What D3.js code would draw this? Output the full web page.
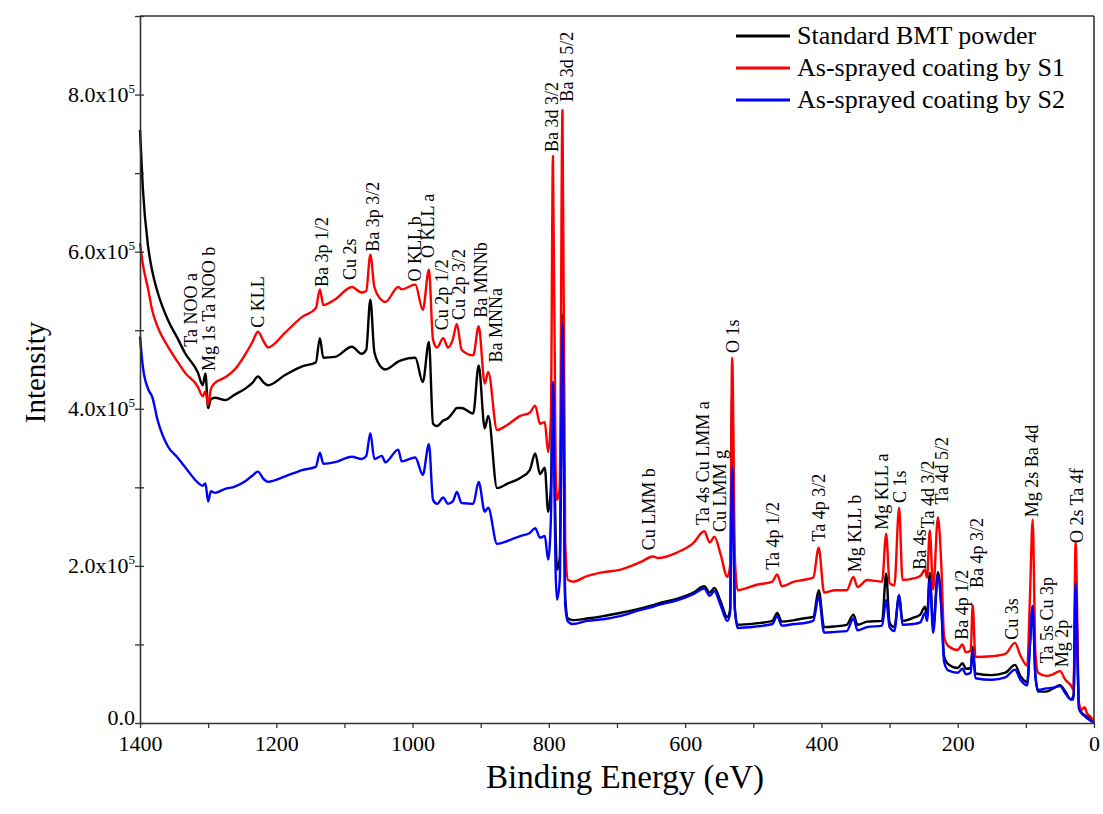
<!DOCTYPE html>
<html>
<head>
<meta charset="utf-8">
<script src="https://cdn.jsdelivr.net/npm/d3@7"></script>
<style>
  body { margin: 0; background: #fff; }
  svg { font-family: "Liberation Serif", "Times New Roman", serif; }
</style>
</head>
<body>
<div id="chart"></div>
<script>
// binding energy grid (eV), intensities in units of 1e5 counts
const energies = [1400, 1396, 1388, 1382, 1374, 1359, 1345, 1334, 1315, 1308,
  1304, 1300, 1296, 1290, 1275, 1261, 1245, 1235, 1227, 1218,
  1212, 1187, 1162, 1142, 1136, 1131, 1114, 1089, 1075, 1068,
  1062, 1056, 1045, 1040, 1021, 1016, 996, 985, 976, 970,
  964, 955, 948, 941, 935, 928, 911, 903, 894, 889,
  876, 860, 842, 828, 820, 813, 806, 801, 797, 794,
  790, 788, 784, 780, 776, 772, 765, 744, 720, 696,
  665, 647, 640, 612, 588, 572, 564, 557, 548, 538,
  534, 531, 527, 523, 495, 472, 465, 458, 440, 427,
  412, 404, 396, 380, 363, 353, 347, 333, 311, 305,
  300, 293, 286, 281, 265, 255, 248, 245, 241, 236,
  229, 224, 220, 214, 200, 193, 188, 181, 178, 174,
  150, 130, 116, 108, 98, 94, 90, 86, 82, 70,
  60, 50, 42, 34, 30, 27, 22, 18, 14, 10,
  5, 0];

const standardBMT = [7.55, 6.83, 6.06, 5.75, 5.48, 5.13, 4.90, 4.71, 4.46, 4.30,
  4.45, 4.01, 4.12, 4.14, 4.11, 4.18, 4.26, 4.33, 4.41, 4.33,
  4.30, 4.43, 4.54, 4.59, 4.90, 4.65, 4.66, 4.79, 4.70, 4.75,
  5.39, 4.72, 4.52, 4.50, 4.60, 4.62, 4.65, 4.34, 4.85, 3.81,
  3.78, 3.85, 3.88, 3.95, 4.01, 4.01, 3.94, 4.55, 3.75, 3.91,
  2.99, 3.05, 3.12, 3.22, 3.43, 3.17, 3.25, 2.69, 3.00, 4.30,
  2.40, 1.95, 2.10, 5.20, 1.60, 1.33, 1.31, 1.33, 1.36, 1.40,
  1.46, 1.50, 1.52, 1.58, 1.66, 1.74, 1.66, 1.72, 1.55, 1.35,
  1.45, 4.20, 1.45, 1.25, 1.27, 1.30, 1.40, 1.29, 1.31, 1.33,
  1.35, 1.69, 1.22, 1.23, 1.25, 1.38, 1.25, 1.29, 1.30, 1.90,
  1.28, 1.22, 1.62, 1.30, 1.34, 1.38, 1.48, 1.35, 1.91, 1.22,
  1.92, 1.50, 0.85, 0.75, 0.70, 0.76, 0.69, 0.70, 0.97, 0.63,
  0.61, 0.64, 0.74, 0.60, 0.52, 1.00, 1.48, 0.60, 0.40, 0.40,
  0.44, 0.48, 0.40, 0.30, 0.35, 1.70, 0.20, 0.13, 0.10, 0.08,
  0.05, 0.00];

const coatingS1 = [6.11, 5.85, 5.52, 5.25, 5.04, 4.79, 4.60, 4.46, 4.28, 4.16,
  4.22, 4.05, 4.25, 4.33, 4.40, 4.50, 4.70, 4.85, 4.98, 4.85,
  4.78, 4.97, 5.17, 5.28, 5.52, 5.32, 5.39, 5.55, 5.48, 5.50,
  5.96, 5.55, 5.38, 5.36, 5.55, 5.52, 5.58, 5.26, 5.77, 4.88,
  4.78, 4.90, 4.78, 4.88, 5.08, 4.75, 4.68, 5.05, 4.32, 4.47,
  3.73, 3.80, 3.91, 3.95, 4.04, 3.81, 3.83, 3.45, 3.90, 7.22,
  3.20, 2.84, 3.00, 7.80, 2.30, 1.82, 1.80, 1.87, 1.92, 1.95,
  2.05, 2.12, 2.10, 2.17, 2.29, 2.44, 2.30, 2.37, 2.15, 1.86,
  2.00, 4.65, 2.10, 1.69, 1.76, 1.80, 1.89, 1.74, 1.80, 1.82,
  1.85, 2.23, 1.66, 1.69, 1.69, 1.86, 1.73, 1.82, 1.80, 2.41,
  1.78, 1.75, 2.74, 1.82, 1.84, 1.87, 1.95, 1.85, 2.45, 1.70,
  2.62, 2.00, 1.10, 0.98, 0.93, 1.00, 0.90, 0.92, 1.50, 0.84,
  0.85, 0.88, 1.02, 0.86, 0.73, 1.60, 2.59, 0.90, 0.64, 0.60,
  0.62, 0.66, 0.55, 0.48, 0.42, 2.30, 0.25, 0.17, 0.20, 0.12,
  0.08, 0.02];

const coatingS2 = [4.92, 4.55, 4.25, 4.15, 3.85, 3.52, 3.38, 3.26, 3.06, 3.02,
  3.05, 2.82, 2.95, 2.93, 2.98, 3.01, 3.08, 3.15, 3.20, 3.10,
  3.07, 3.14, 3.22, 3.26, 3.44, 3.30, 3.32, 3.39, 3.36, 3.40,
  3.69, 3.36, 3.40, 3.32, 3.48, 3.33, 3.38, 3.16, 3.55, 2.84,
  2.79, 2.87, 2.79, 2.82, 2.94, 2.80, 2.79, 3.07, 2.69, 2.74,
  2.28, 2.32, 2.38, 2.42, 2.48, 2.36, 2.38, 2.08, 2.60, 4.34,
  1.90, 1.57, 1.82, 5.08, 1.50, 1.29, 1.26, 1.30, 1.32, 1.36,
  1.44, 1.48, 1.50, 1.56, 1.64, 1.71, 1.62, 1.68, 1.50, 1.30,
  1.40, 3.25, 1.45, 1.21, 1.23, 1.26, 1.36, 1.24, 1.26, 1.27,
  1.30, 1.61, 1.15, 1.16, 1.17, 1.33, 1.18, 1.22, 1.24, 1.57,
  1.22, 1.17, 1.63, 1.25, 1.26, 1.28, 1.40, 1.30, 1.83, 1.15,
  1.88, 1.45, 0.78, 0.67, 0.64, 0.69, 0.62, 0.64, 0.93, 0.57,
  0.55, 0.58, 0.68, 0.55, 0.48, 1.00, 1.49, 0.60, 0.42, 0.44,
  0.45, 0.47, 0.38, 0.30, 0.30, 1.78, 0.18, 0.12, 0.09, 0.06,
  0.03, 0.00];

const seriesNames = ["Standard BMT powder", "As-sprayed coating by S1", "As-sprayed coating by S2"];
const seriesColors = ["#000000", "#ff0000", "#0000ff"];

const xTickValues = [1400, 1200, 1000, 800, 600, 400, 200, 0];
const yTickValues = [0, 2, 4, 6, 8];

// peak assignments: label, energy of label, height (1e5) where the label starts
const peakLabels = ["Ta NOO a", "Mg 1s Ta NOO b", "C KLL", "Ba 3p 1/2", "Cu 2s", "Ba 3p 3/2",
  "O KLL b", "O KLL a", "Cu 2p 1/2", "Cu 2p 3/2", "Ba MNNb", "Ba MNNa", "Ba 3d 3/2", "Ba 3d 5/2",
  "Cu LMM b", "Ta 4s Cu LMM a", "Cu LMM g", "O 1s", "Ta 4p 1/2", "Ta 4p 3/2", "Mg KLL b",
  "Mg KLL a", "C 1s", "Ba 4s", "Ta 4d 3/2", "Ta 4d 5/2", "Ba 4p 1/2", "Ba 4p 3/2", "Cu 3s",
  "Mg 2s Ba 4d", "Ta 5s Cu 3p", "Mg 2p", "O 2s Ta 4f"];
const peakEnergies = [1325, 1299, 1227, 1133, 1092, 1058, 996, 977, 957, 932, 900, 878, 795, 773,
  653, 574, 549, 530, 471, 404, 351, 311, 285, 255, 244, 223, 194, 172, 120, 91, 69, 47, 25];
const peakLevels = [4.79, 4.48, 5.03, 5.55, 5.64, 6.0, 5.62, 5.92, 5.0, 5.13, 5.16, 4.59, 7.27, 7.91,
  2.2, 2.52, 2.43, 4.71, 1.95, 2.31, 1.92, 2.46, 2.80, 1.95, 2.48, 2.78, 1.06, 1.72, 1.06,
  2.62, 0.76, 0.71, 2.29];

const W = 1103, H = 814;
const margin = {top: 16, right: 9, bottom: 91, left: 140};

const svg = d3.select("#chart").append("svg")
  .attr("width", W)
  .attr("height", H);

const x = d3.scaleLinear().domain([1400, 0]).range([margin.left, W - margin.right]);
const y = d3.scaleLinear().domain([0, 9]).range([H - margin.bottom, margin.top]);

const axisColor = "#333";

// spectra
const seriesValues = [standardBMT, coatingS1, coatingS2];
const line = d3.line()
  .x(d => x(d[0]))
  .y(d => y(d[1]))
  .curve(d3.curveMonotoneX);

svg.append("g").attr("class", "spectra")
  .selectAll("path")
  .data(seriesValues)
  .enter().append("path")
  .attr("d", vals => line(energies.map((e, i) => [e, vals[i]])))
  .attr("fill", "none")
  .attr("stroke", (d, i) => seriesColors[i])
  .attr("stroke-width", 2.4)
  .attr("stroke-linejoin", "round");

// x axis
const xAxis = svg.append("g")
  .attr("transform", "translate(0," + (H - margin.bottom) + ")")
  .call(d3.axisBottom(x).tickValues(d3.range(0, 1401, 100)).tickSizeInner(5).tickSizeOuter(0).tickPadding(7)
    .tickFormat(d => xTickValues.includes(d) ? d : ""));
xAxis.selectAll("text").attr("font-size", 22).attr("font-family", "Liberation Serif").attr("fill", "#000");
xAxis.selectAll("line").attr("stroke", axisColor).attr("stroke-width", 1.3);
xAxis.select(".domain").attr("stroke", axisColor).attr("stroke-width", 1.6);

// y axis
const yAxis = svg.append("g")
  .attr("transform", "translate(" + margin.left + ",0)")
  .call(d3.axisLeft(y).tickValues(d3.range(0, 9.01, 1)).tickSizeInner(5).tickSizeOuter(0).tickPadding(3)
    .tickFormat(""));
yAxis.selectAll("line").attr("stroke", axisColor).attr("stroke-width", 1.3);
yAxis.select(".domain").attr("stroke", axisColor).attr("stroke-width", 1.6);
// inner halves of the y ticks
svg.append("g")
  .attr("transform", "translate(" + margin.left + ",0)")
  .call(d3.axisRight(y).tickValues(d3.range(0, 9.01, 1)).tickSizeInner(4).tickSizeOuter(0).tickFormat(""))
  .call(g => g.select(".domain").remove())
  .selectAll("line").attr("stroke", axisColor).attr("stroke-width", 1.3);

const yLabels = svg.append("g").attr("font-size", 22).attr("text-anchor", "end");
yTickValues.forEach(v => {
  const t = yLabels.append("text")
    .attr("x", margin.left - 5)
    .attr("y", y(v) + (v === 0 ? 2 : 7));
  if (v === 0) {
    t.text("0.0");
  } else {
    t.append("tspan").text(v.toFixed(1) + "x10");
    t.append("tspan").attr("font-size", 13).attr("dy", -9).text("5");
  }
});

// frame top and right
svg.append("line")
  .attr("x1", margin.left).attr("x2", W - margin.right)
  .attr("y1", margin.top).attr("y2", margin.top)
  .attr("stroke", axisColor).attr("stroke-width", 1.6);
svg.append("line")
  .attr("x1", W - margin.right).attr("x2", W - margin.right)
  .attr("y1", margin.top).attr("y2", H - margin.bottom)
  .attr("stroke", axisColor).attr("stroke-width", 1.6);

// axis titles
svg.append("text")
  .attr("x", (margin.left + W - margin.right) / 2 + 8)
  .attr("y", 788)
  .attr("text-anchor", "middle")
  .attr("font-size", 33)
  .text("Binding Energy (eV)");
svg.append("text")
  .attr("transform", "translate(45," + ((margin.top + H - margin.bottom) / 2 + 3) + ") rotate(-90)")
  .attr("text-anchor", "middle")
  .attr("font-size", 29)
  .text("Intensity");

// peak labels
svg.append("g").attr("class", "peaks")
  .selectAll("text")
  .data(peakLabels)
  .enter().append("text")
  .attr("transform", (d, i) => "translate(" + x(peakEnergies[i]) + "," + y(peakLevels[i]) + ") rotate(-90)")
  .attr("dy", "0.33em")
  .attr("font-size", 18)
  .text(d => d);

// legend
const legend = svg.append("g").attr("transform", "translate(736,36)");
seriesNames.forEach((name, i) => {
  legend.append("line")
    .attr("x1", 0).attr("x2", 54)
    .attr("y1", i * 32).attr("y2", i * 32)
    .attr("stroke", seriesColors[i])
    .attr("stroke-width", 3);
  legend.append("text")
    .attr("x", 61)
    .attr("y", i * 32 + 8)
    .attr("font-size", 26)
    .text(name);
});
</script>
</body>
</html>
